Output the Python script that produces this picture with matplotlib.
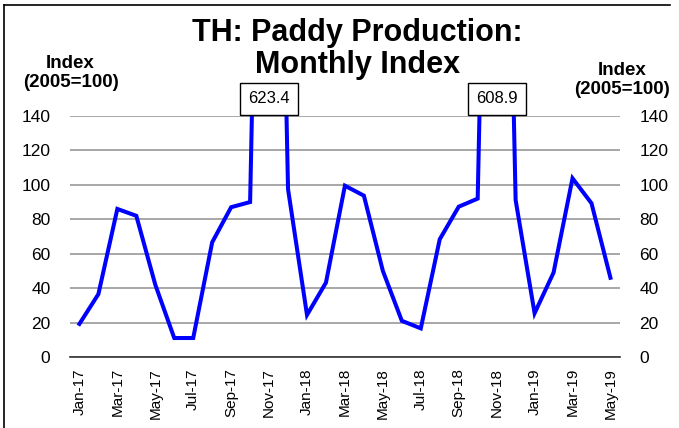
import matplotlib.pyplot as plt
from matplotlib.lines import Line2D

plt.rcParams['font.family'] = ['Liberation Sans', 'DejaVu Sans']

# Monthly index values, Jan-17 .. May-19
months = ["Jan-17", "Feb-17", "Mar-17", "Apr-17", "May-17", "Jun-17", "Jul-17",
          "Aug-17", "Sep-17", "Oct-17", "Nov-17", "Dec-17",
          "Jan-18", "Feb-18", "Mar-18", "Apr-18", "May-18", "Jun-18", "Jul-18",
          "Aug-18", "Sep-18", "Oct-18", "Nov-18", "Dec-18",
          "Jan-19", "Feb-19", "Mar-19", "Apr-19", "May-19"]
index_values = [19.2, 36.5, 86.0, 82.0, 42.0, 11.0, 11.0,
                66.6, 87.0, 90.0, 623.4, 97.5,
                24.4, 43.2, 99.5, 93.7, 50.0, 21.0, 16.6,
                68.4, 87.3, 92.0, 608.9, 91.2,
                25.4, 49.0, 103.8, 89.3, 46.0]
yticks = [0, 20, 40, 60, 80, 100, 120, 140]

fig = plt.figure(figsize=(6.79, 4.28), dpi=100)
ax = fig.add_axes([0.103, 0.166, 0.810, 0.563])

x = list(range(len(months)))
ax.plot(x, index_values, color="#0000FF", lw=2.9, solid_joinstyle="miter", zorder=3)

ax.set_xlim(-0.5, len(months) - 0.5)
ax.set_ylim(0, 140)
ax.set_yticks(yticks)
ax.grid(axis="y", color="#A0A0A0", lw=1.3)
ax.set_axisbelow(True)
for s in ["top", "left", "right"]:
    ax.spines[s].set_visible(False)
ax.spines["bottom"].set_color("#333333")
ax.spines["bottom"].set_linewidth(1.2)

ax.set_xticks(x[::2])
ax.set_xticklabels(months[::2], rotation=90, fontsize=11)
ax.tick_params(axis="x", length=0, pad=8)
ax.tick_params(axis="y", length=0, labelsize=12.5, pad=14,
               labelleft=True, labelright=True)

# call-out boxes for the two off-scale peaks
pad = 0.5
fs = 12
for i, v in enumerate(index_values):
    if v > 140:
        ax.annotate(f"{v:.1f}", xy=(i, 140), xytext=(0, pad * fs + 1), textcoords="offset points",
                    ha="center", va="bottom", fontsize=fs, annotation_clip=False,
                    bbox=dict(boxstyle=f"square,pad={pad}", fc="white", ec="black", lw=1))

fig.text(0.526, 0.886, "TH: Paddy Production:\nMonthly Index", ha="center", va="center",
         fontsize=22, fontweight="bold", linespacing=1.08)
fig.text(0.104, 0.83, "Index\n(2005=100)", ha="center", va="center",
         fontsize=13.5, fontweight="bold", linespacing=1.15)
fig.text(0.916, 0.812, "Index\n(2005=100)", ha="center", va="center",
         fontsize=13.5, fontweight="bold", linespacing=1.15)

# frame lines (top and left) of the original chart area
fig.add_artist(Line2D([0.006, 0.987], [0.988, 0.988], transform=fig.transFigure, color="black", lw=1.2))
fig.add_artist(Line2D([0.006, 0.006], [0.0, 0.988], transform=fig.transFigure, color="black", lw=1.2))

fig.savefig("out.png", dpi=100)
